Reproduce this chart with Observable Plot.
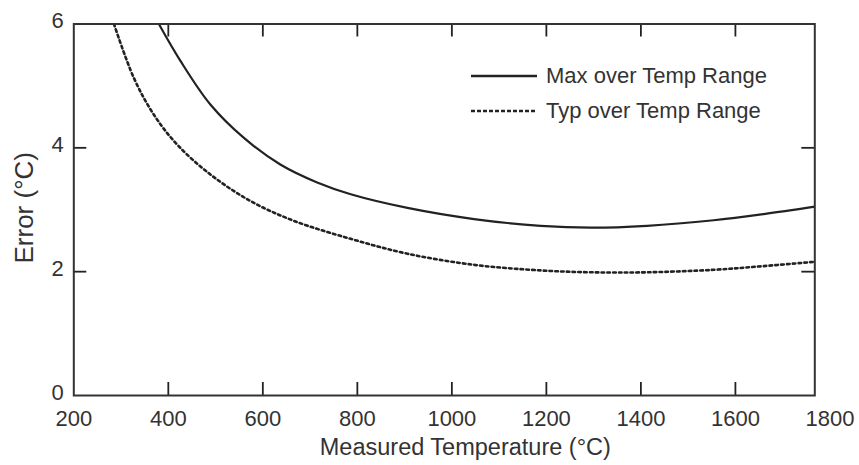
<!DOCTYPE html>
<html>
<head>
<meta charset="utf-8">
<script src="https://cdn.jsdelivr.net/npm/d3@7"></script>
<script src="https://cdn.jsdelivr.net/npm/@observablehq/plot@0.6"></script>
<style>
  html, body { margin: 0; padding: 0; background: #fff; }
  #wrap { position: relative; width: 859px; height: 465px; font-family: "Liberation Sans", Arial, Helvetica, sans-serif; }
  #legend { position: absolute; left: 470px; top: 58px; color: #333; font-size: 22px; }
  .row { display: flex; align-items: center; height: 35px; }
  .row svg { margin-right: 8px; }
</style>
</head>
<body>
<div id="wrap"></div>
<script>
// Data
const maxTemp = [380, 426, 489, 560, 637, 715, 786, 906, 1047, 1188, 1294, 1413, 1554, 1660, 1768];
const maxErr  = [6.0, 5.40, 4.70, 4.16, 3.73, 3.44, 3.25, 3.03, 2.85, 2.74, 2.71, 2.74, 2.83, 2.93, 3.05];
const typTemp = [285, 327, 369, 419, 489, 574, 666, 786, 906, 1047, 1188, 1294, 1413, 1554, 1660, 1768];
const typErr  = [6.0, 5.13, 4.54, 4.05, 3.57, 3.14, 2.82, 2.53, 2.29, 2.11, 2.02, 1.99, 1.99, 2.03, 2.09, 2.16];
const xTickLabels = [200, 400, 600, 800, 1000, 1200, 1400, 1600, 1800];
const xInnerTicks = [400, 600, 800, 1000, 1200, 1400, 1600];
const yTickLabels = [0, 2, 4, 6];
const yInnerTicks = [2, 4];
const xTitle = "Measured Temperature (°C)";
const yTitle = "Error (°C)";
const seriesNames = ["Max over Temp Range", "Typ over Temp Range"];

const maxData = maxTemp.map((t, i) => ({t, e: maxErr[i]}));
const typData = typTemp.map((t, i) => ({t, e: typErr[i]}));

const W = 859, H = 465;
const mL = 73.3, mR = 44.7, mT = 23.5, mB = 70;
const innerW = W - mL - mR, innerH = H - mT - mB;
const tickLen = 13;
const ink = "#222";
const textInk = "#333";

const chart = Plot.plot({
  width: W, height: H,
  marginLeft: mL, marginRight: mR, marginTop: mT, marginBottom: mB,
  x: {domain: [200, 1768], axis: null},
  y: {domain: [0, 6], axis: null},
  style: {fontFamily: '"Liberation Sans", Arial, Helvetica, sans-serif', background: "#fff"},
  marks: [
    Plot.line(maxData, {x: "t", y: "e", stroke: ink, strokeWidth: 2.2, curve: "catmull-rom", clip: true}),
    Plot.line(typData, {x: "t", y: "e", stroke: ink, strokeWidth: 2.6, strokeDasharray: "2.6,3.2", curve: "catmull-rom", clip: true}),
    // inward ticks
    Plot.ruleX(xInnerTicks, {x: d => d, stroke: ink, strokeWidth: 1.8, insetTop: innerH - tickLen}),
    Plot.ruleX(xInnerTicks, {x: d => d, stroke: ink, strokeWidth: 1.8, insetBottom: innerH - tickLen}),
    Plot.ruleY(yInnerTicks, {y: d => d, stroke: ink, strokeWidth: 1.8, insetRight: innerW - tickLen}),
    Plot.ruleY(yInnerTicks, {y: d => d, stroke: ink, strokeWidth: 1.8, insetLeft: innerW - tickLen}),
    Plot.frame({stroke: "#333", strokeWidth: 2}),
    // tick labels
    Plot.text(xTickLabels, {x: d => d, frameAnchor: "bottom", dy: 23, text: d => String(d), fontSize: 22, fill: textInk, textAnchor: "middle", lineAnchor: "middle", clip: false}),
    Plot.text(yTickLabels, {y: d => d, frameAnchor: "left", dx: -10, dy: -3, text: d => String(d), fontSize: 22, fill: textInk, textAnchor: "end", lineAnchor: "middle"}),
    // axis titles
    Plot.text([xTitle], {frameAnchor: "bottom", dx: 21, dy: 52, text: d => d, fontSize: 23.5, fill: textInk, textAnchor: "middle", lineAnchor: "middle"}),
    Plot.text([yTitle], {frameAnchor: "left", dx: -49, dy: -2, rotate: -90, text: d => d, fontSize: 26, fill: textInk, textAnchor: "middle", lineAnchor: "middle"})
  ]
});

const wrap = document.getElementById("wrap");
wrap.appendChild(chart);

// legend overlay
const legend = document.createElement("div");
legend.id = "legend";
const dashes = [null, "4,2"];
seriesNames.forEach((name, i) => {
  const row = document.createElement("div");
  row.className = "row";
  const svg = d3.create("svg").attr("width", 68).attr("height", 10);
  svg.append("line").attr("x1", 1).attr("x2", 67).attr("y1", 5).attr("y2", 5)
    .attr("stroke", ink).attr("stroke-width", 2.3)
    .attr("stroke-dasharray", dashes[i]);
  row.appendChild(svg.node());
  const span = document.createElement("span");
  span.textContent = name;
  row.appendChild(span);
  legend.appendChild(row);
});
wrap.appendChild(legend);
</script>
</body>
</html>
